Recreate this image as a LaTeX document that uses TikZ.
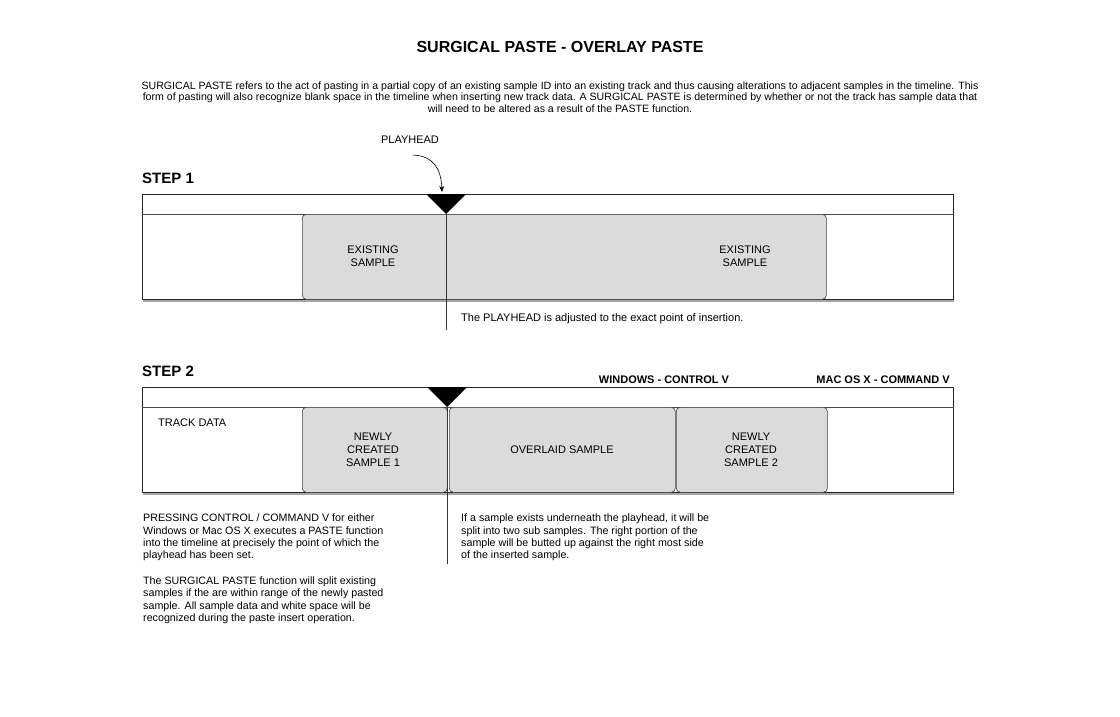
\documentclass[tikz,border=0pt]{standalone}
\usepackage{fontspec}
\setmainfont{Liberation Sans}
\usetikzlibrary{shadows,arrows.meta}
\begin{document}
\begin{tikzpicture}[x=1pt,y=-1pt,
  track/.style={draw=black!85, line width=0.8pt, fill=white, anchor=north west, inner sep=0pt, minimum width=811pt, minimum height=105pt,
     drop shadow={shadow xshift=1pt, shadow yshift=-2.5pt, opacity=.35, fill=black}},
  hdr/.style={draw=black!70, line width=0.6pt},
  sample/.style={draw=black!75, line width=0.6pt, fill=gray!28, rounded corners=4pt, anchor=north west, inner sep=0pt, minimum height=85pt},
  lbl/.style={font=\fontsize{11}{13}\selectfont, align=center, inner sep=0pt},
  body/.style={font=\fontsize{10.7}{12.3}\selectfont, align=left, anchor=north west, inner sep=0pt},
  bold/.style={font=\fontsize{11}{13}\selectfont\bfseries, inner sep=0pt},
  steptitle/.style={font=\fontsize{15}{17}\selectfont\bfseries, anchor=base west, inner sep=0pt},
  phline/.style={draw=black!80, line width=0.7pt}
]
\useasboundingbox (0,0) rectangle (1120,717);

% title and description
\node[font=\fontsize{16}{19}\selectfont\bfseries, inner sep=0pt] (title) at (560,47) {SURGICAL PASTE - OVERLAY PASTE};
\node[font=\fontsize{10.6}{11.7}\selectfont, align=center, inner sep=0pt] (desc) at (560,97) {SURGICAL PASTE refers to the act of pasting in a partial copy of an existing sample ID into an existing track and thus causing alterations to adjacent samples in the timeline. This\\ form of pasting will also recognize blank space in the timeline when inserting new track data. A SURGICAL PASTE is determined by whether or not the track has sample data that\\ will need to be altered as a result of the PASTE function.};

% ---------- STEP 1 ----------
\node[steptitle] (st1) at (142,183) {STEP 1};
\node[lbl] (phl) at (410,140) {PLAYHEAD};
\coordinate (arrs) at (413,155);
\coordinate (arre) at (442,192);
\draw[line width=0.6pt, -{Stealth[length=6pt,width=5pt]}] (arrs) .. controls (433,156) and (441,168) .. (arre);

\node[track] (t1) at (142,194) {};
\draw[hdr] ([yshift=-20pt]t1.north west) -- ([yshift=-20pt]t1.north east);
\node[sample, minimum width=524pt] (s1) at (302,214) {};
\node[lbl] (s1a) at (373,256) {EXISTING\\SAMPLE};
\node[lbl] (s1b) at (745,256) {EXISTING\\SAMPLE};
\coordinate (ph1) at (446,214);
\coordinate (ph1e) at (446,330);
\fill ([xshift=-20pt,yshift=20pt]ph1) -- ([xshift=20pt,yshift=20pt]ph1) -- (ph1) -- cycle;
\draw[phline] (ph1) -- (ph1e);
\node[lbl, anchor=west] (n1) at (461,319) {The PLAYHEAD is adjusted to the exact point of insertion.};

% ---------- STEP 2 ----------
\node[steptitle] (st2) at (142,376) {STEP 2};
\node[bold] (win) at (664,380) {WINDOWS - CONTROL V};
\node[bold] (mac) at (883,380) {MAC OS X - COMMAND V};

\node[track] (t2) at (142,387) {};
\draw[hdr] ([yshift=-20pt]t2.north west) -- ([yshift=-20pt]t2.north east);
\node[lbl, anchor=west] (td) at (158,423) {TRACK DATA};
\node[sample, minimum width=145pt] (ns1) at (302,407) {};
\node[sample, minimum width=226pt] (ov) at (449,407) {};
\node[sample, minimum width=151pt] (ns2) at (676,407) {};
\node[lbl] (ns1t) at (373,450) {NEWLY\\CREATED\\SAMPLE 1};
\node[lbl] (ovt) at (562,450) {OVERLAID SAMPLE};
\node[lbl] (ns2t) at (751,450) {NEWLY\\CREATED\\SAMPLE 2};
\coordinate (ph2) at (447,407);
\coordinate (ph2e) at (447,564);
\fill ([xshift=-20pt,yshift=20pt]ph2) -- ([xshift=20pt,yshift=20pt]ph2) -- (ph2) -- cycle;
\draw[phline] (ph2) -- (ph2e);

\node[body] (pl) at (143,514) {PRESSING CONTROL / COMMAND V for either\\Windows or Mac OS X executes a PASTE function\\into the timeline at precisely the point of which the\\playhead has been set.\\[13.5pt]The SURGICAL PASTE function will split existing\\samples if the are within range of the newly pasted\\sample. All sample data and white space will be\\recognized during the paste insert operation.};
\node[body] (pr) at (461,514) {If a sample exists underneath the playhead, it will be\\split into two sub samples. The right portion of the\\sample will be butted up against the right most side\\of the inserted sample.};
\end{tikzpicture}
\end{document}
